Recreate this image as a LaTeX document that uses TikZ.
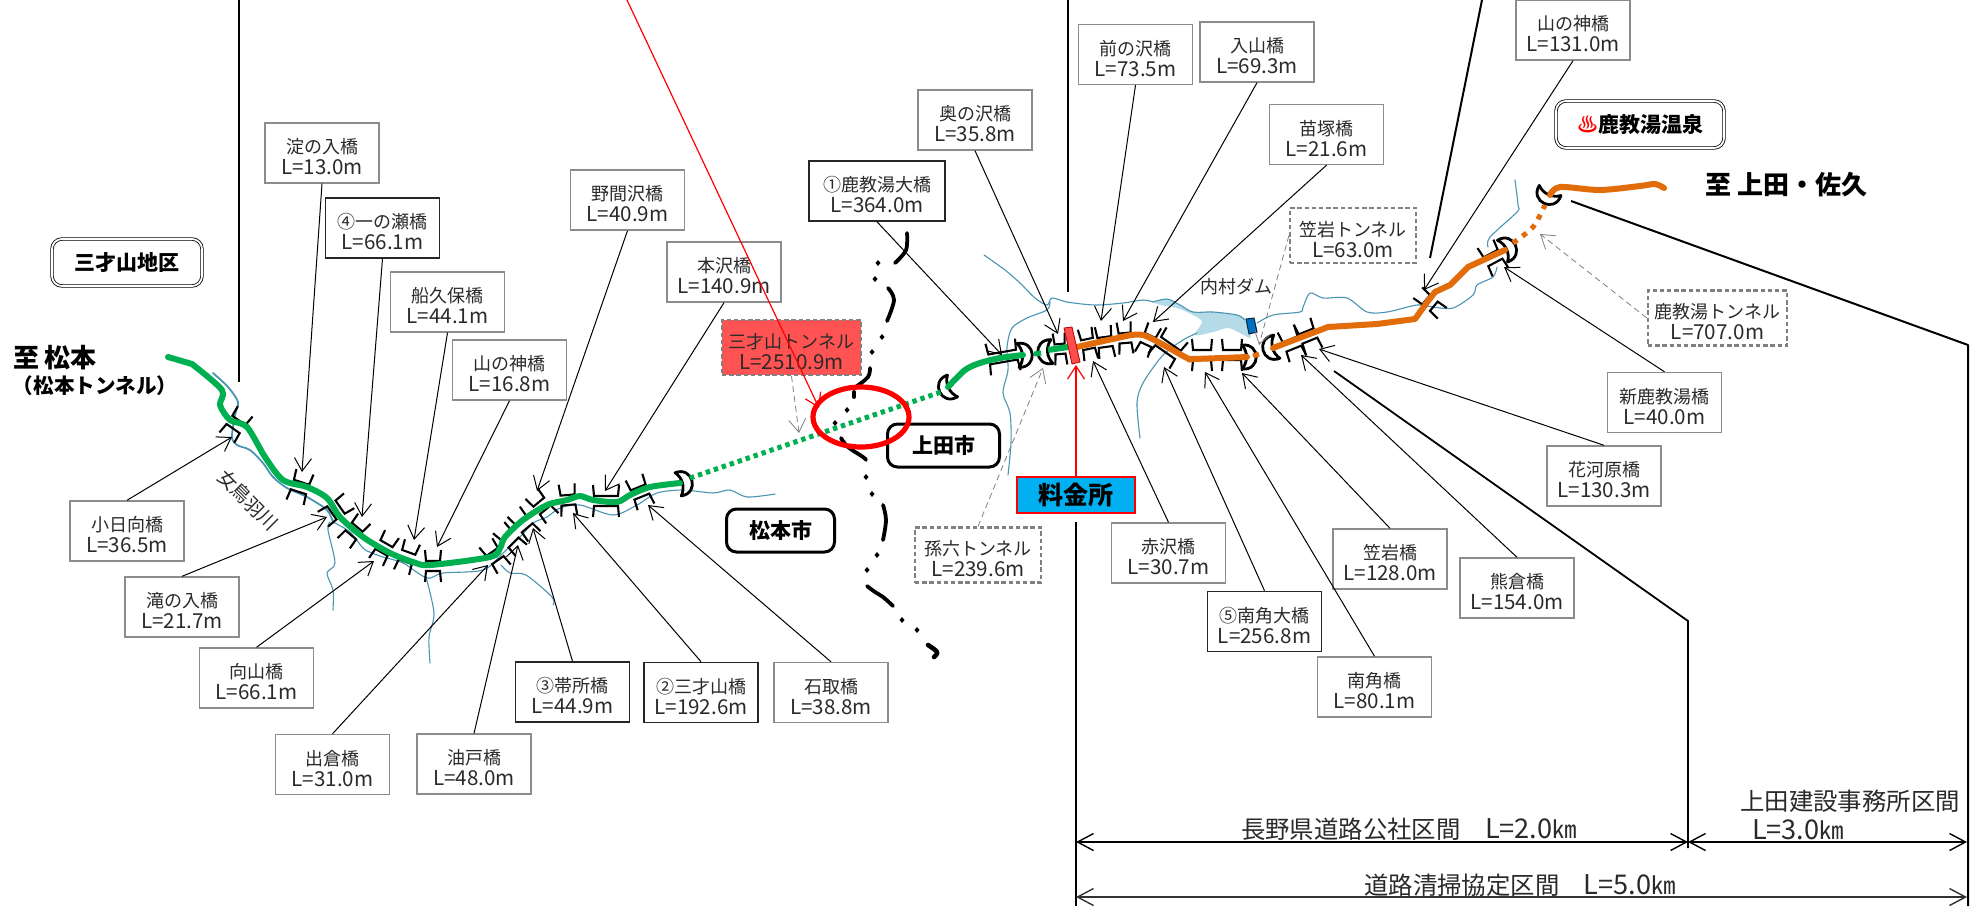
\documentclass[tikz,border=0pt]{standalone}
\usepackage{fontspec}
\setmainfont{Noto Sans CJK JP}
\usetikzlibrary{arrows.meta,shapes.geometric,calc}
\definecolor{rv}{HTML}{4A94B4}
\definecolor{grn}{HTML}{00B050}
\definecolor{org}{HTML}{E36C0A}
\definecolor{lake}{HTML}{B4DBE7}
\definecolor{tx}{HTML}{2A2A2A}
\definecolor{tollblue}{HTML}{00B0F0}
\definecolor{damblue}{HTML}{0070C0}
\tikzset{
 lbase/.style={fill=white,minimum width=57pt,minimum height=30pt,inner sep=0pt,align=center,text=tx,font=\fontsize{9}{10.5}\selectfont},
 lgray/.style={lbase,draw=black!45,line width=.7pt},
 lblack/.style={lbase,draw=black!85,line width=.8pt},
 ldash/.style={lbase,draw=black!50,line width=1.1pt,dash pattern=on 2.2pt off 1.4pt,minimum width=63pt,minimum height=27.5pt},
 arr/.style={line width=.5pt,-{Straight Barb[length=6.5pt,width=8.5pt,line width=.5pt]}},
 garr/.style={line width=.4pt,draw=black!50,densely dashed,-{Straight Barb[length=6.5pt,width=8.5pt,line width=.4pt,black!50]}},
 rarr/.style={line width=.6pt,draw=red,-{Straight Barb[length=6.5pt,width=8.5pt,line width=.6pt,red]}},
 river/.style={draw=rv,line width=.55pt,line join=round,line cap=round},
 road/.style={line width=3pt,line join=round,line cap=round},
 heavy/.style={line width=1pt,draw=black},
 dimarr/.style={line width=.9pt,{Straight Barb[length=8pt,width=8.5pt,line width=.7pt]}-{Straight Barb[length=8pt,width=8.5pt,line width=.7pt]}},
 brail/.style={draw=black,line width=1.05pt,line join=miter},
 border/.style={draw=black,line width=1.9pt,line cap=round,line join=round},
 rbox/.style={draw=black,line width=1.5pt,rounded corners=5pt,fill=white,inner sep=0pt,font=\bfseries\fontsize{10.5}{12}\selectfont},
 dbox/.style={draw=black,line width=.4pt,double=white,double distance=.9pt,rounded corners=5pt,fill=white,inner sep=0pt,font=\bfseries\fontsize{10.5}{12}\selectfont},
 dimtext/.style={inner sep=0pt,text=tx,font=\fontsize{12.2}{13}\selectfont},
}
\newcommand{\lbl}[6]{\node[#4] (#1) at (#2,#3) {\rule{0pt}{11.6pt}#5\\\fontsize{10.3}{10.5}\selectfont #6};}
\newcommand{\conn}[5]{\coordinate (#1-tip) at (#3,#4); \draw[#5] (#1.#2) -- (#1-tip);}
\newcommand{\brg}[4]{\begin{scope}[shift={(#1,#2)},rotate=#3]
 \draw[brail] (-#4-1,-16) -- (-#4,-5) -- (#4,-5) -- (#4+1,-16);
 \draw[brail] (-#4-1,16) -- (-#4,5) -- (#4,5) -- (#4+1,16);
 \end{scope}}
\newcommand{\portal}[3]{\begin{scope}[shift={(#1,#2)},rotate=#3]
 \draw[draw=black,fill=white,line width=1.4pt,line join=round] (-5,-12) .. controls (14,-14) and (14,14) .. (-5,12) .. controls (1,5) and (1,-5) .. (-5,-12) -- cycle;
 \end{scope}}
\newcommand{\dimL}[1]{{\fontsize{13.6}{13}\selectfont #1}}
\begin{document}
\begin{tikzpicture}[x=.5pt,y=-.5pt]
\useasboundingbox (0,0) rectangle (1980,906);
\fill[white] (0,0) rectangle (1980,906);

% lake and rivers
\fill[lake] plot[smooth,tension=.5] coordinates {(1153,302)(1167,299)(1180,305)(1193,312)(1213,312)(1237,315)(1245,320)(1250,333)(1250,338)(1240,333)(1228,328)(1213,332)(1195,335)(1202,322)(1193,315)(1177,308)(1160,305)(1153,302)};
\draw[river] plot[smooth,tension=.5] coordinates {(1153,302)(1167,299)(1180,305)(1193,312)(1213,312)(1237,315)(1245,320)};
\draw[river,line width=.9pt] plot[smooth,tension=.5] coordinates {(213,373)(228,387)(238,402)(235,415)(232,437)(237,445)(250,450)(263,463)(273,477)(287,488)(307,497)(327,510)(333,522)};
\draw[river] plot[smooth,tension=.5] coordinates {(333,522)(350,532)(363,548)(372,553)(383,557)(403,563)(427,578)(443,573)(483,570)(503,553)(520,537)(533,523)(547,517)(560,508)(580,505)(613,515)(637,505)(657,493)(683,490)(713,493)(730,490)(747,497)(775,494)};
\draw[river] plot[smooth,tension=.5] coordinates {(330,522)(328,530)(335,563)(327,573)(333,590)(333,610)};
\draw[river] plot[smooth,tension=.5] coordinates {(426,577)(434,613)(429,637)(430,663)};
\draw[river] plot[smooth,tension=.5] coordinates {(501,565)(510,573)(526,575)(552,597)(553,605)};
\draw[river] plot[smooth,tension=.5] coordinates {(984,255)(1005,270)(1020,283)(1035,298)(1047,305)(1052,298)(1067,302)(1095,305)(1123,303)(1143,300)(1153,302)};
\draw[river] plot[smooth,tension=.5] coordinates {(1050,302)(1047,310)(1027,318)(1012,328)(1007,347)(1008,370)(1003,393)(1010,413)(1011,443)(1008,475)};
\draw[river] plot[smooth,tension=.5] coordinates {(1197,333)(1183,340)(1163,355)(1143,383)(1137,403)(1140,438)};
\draw[river] plot[smooth,tension=.5] coordinates {(1257,323)(1273,315)(1300,312)(1303,307)(1310,293)(1323,298)(1347,298)(1367,312)(1387,312)(1417,305)(1433,307)(1453,308)(1473,295)(1477,285)(1493,277)(1497,267)};
\draw[river] plot[smooth,tension=.5] coordinates {(1488,247)(1490,237)(1517,212)(1518,205)(1515,180)};
\filldraw[draw=black!70!damblue,fill=damblue,line width=.5pt] (1246,319) -- (1254,318) -- (1257,332) -- (1249,334) -- cycle;

% city boundary
\draw[border] plot[smooth,tension=.6] coordinates {(907,233)(906,250)(895,263)};
\draw[border] plot[smooth,tension=.6] coordinates {(888,288)(894,300)(887,321)};
\draw[border] plot[smooth,tension=.6] coordinates {(870,368)(868,377)(857,386)};
\draw[border] (854,392) -- (854,397);
\draw[border] plot[smooth,tension=.6] coordinates {(841,438)(848,447)(863,457)(866,460)};
\draw[border] plot[smooth,tension=.6] coordinates {(883,505)(886,520)(883,540)};
\draw[border] plot[smooth,tension=.6] coordinates {(867,586)(875,592)(883,597)(893,606)};
\draw[border,line width=2.3pt] plot[smooth,tension=.6] coordinates {(928,645)(937,652)(934,657)};
\foreach \p in {(878,263),(875,279),(882,337),(872,352),(847,410),(835,423),(866,477),(872,494),(877,555),(867,570),(902,620),(917,630)} {\fill[black] \p ++(-2.5,0) -- ++(2.5,-3) -- ++(2.5,3) -- ++(-2.5,3) -- cycle;}

% heavy leader lines
\coordinate (v1a) at (239,0); \coordinate (v1b) at (239,382); \draw[heavy] (v1a) -- (v1b);
\coordinate (v2a) at (1068,0); \coordinate (v2b) at (1068,292); \draw[heavy] (v2a) -- (v2b);
\coordinate (v3a) at (1076,522); \coordinate (v3b) at (1076,906); \draw[heavy,line width=.9pt] (v3a) -- (v3b);
\coordinate (v4a) at (1482,0); \coordinate (v4b) at (1430,258); \draw[heavy] (v4a) -- (v4b);
\coordinate (v5a) at (1334,371); \coordinate (v5b) at (1688,621); \coordinate (v5c) at (1688,848); \draw[heavy,line width=.9pt,line join=round] (v5a) -- (v5b) -- (v5c);
\coordinate (v6a) at (1571,201); \coordinate (v6b) at (1968,345); \coordinate (v6c) at (1968,906); \draw[heavy,line join=round] (v6a) -- (v6b) -- (v6c);

% bridges
\brg{236}{424.5}{-35}{8}
\brg{300}{487}{-18}{8}
\brg{336}{510}{-55}{8}
\brg{354}{531}{-40}{7}
\brg{384}{548}{-30}{7}
\brg{407}{557}{-20}{7}
\brg{433}{566}{0}{7}
\brg{495}{556}{35}{7}
\brg{510}{539}{45}{7}
\brg{524}{524}{40}{7}
\brg{542}{506}{40}{7}
\brg{568}{500}{5}{7}
\brg{606}{501}{0}{12}
\brg{640}{492}{22}{8}
\brg{1003}{357}{10}{14}
\brg{1060}{349}{5}{5}
\brg{1088}{344}{12}{6}
\brg{1105}{342}{8}{7}
\brg{1125}{338}{5}{6}
\brg{1148}{340}{-25}{6}
\brg{1168}{348}{-35}{12}
\brg{1202}{355}{0}{9}
\brg{1232}{355}{0}{9}
\brg{1292}{344}{22}{8}
\brg{1308}{336}{22}{8}
\brg{1430}{303}{50}{6}
\brg{1493}{258}{28}{8}

% tunnel portals
\portal{683}{483}{15}
\portal{948}{388}{205}
\portal{1023}{355}{5}
\portal{1047}{352}{185}
\portal{1247}{357}{0}
\portal{1272}{348}{195}
\portal{1507}{249}{25}
\portal{1548}{195}{245}

% roads
\draw[road,grn] plot[smooth,tension=.5] coordinates {(168,357)(192,364)};
\draw[road,grn] plot[smooth,tension=.5] coordinates {(192,364)(222,390)(220,405)(230,420)(247,427)(265,457)(283,480)(307,487)(327,498)(340,517)(363,537)(390,553)(413,562)(430,565)(490,557)(500,548)(505,537)(523,520)(547,505)(567,500)(580,496)(593,500)(617,502)(630,495)(650,487)(680,483)};
\draw[grn,line width=2.5pt,dash pattern=on 2.2pt off 2pt] (690,478) -- (941,392);
\draw[road,grn] plot[smooth,tension=.5] coordinates {(948,387)(965,370)(980,363)(1000,358)(1023,355)};
\draw[grn,line width=2.5pt] (1034,354) -- (1041,353);
\draw[road,grn,line cap=butt] (1048,350) -- (1068,347);
\draw[road,org] plot[smooth,tension=.4] coordinates {(1077,347)(1113,339)(1143,335)(1187,358)(1193,359)(1247,357)};
\draw[org,line width=2.5pt] (1253,356) -- (1259,354);
\draw[road,org] plot coordinates {(1273,348)(1328,327)(1377,324)(1415,319)(1428,301)(1435,292)(1450,285)(1468,267)(1505,250)};
\draw[org,line width=2.5pt,dash pattern=on 2.6pt off 3.2pt] plot[smooth,tension=.5] coordinates {(1513,243)(1533,227)(1545,205)};
\draw[road,org] plot[smooth,tension=.5] coordinates {(1550,195)(1560,187)(1600,190)(1640,186)(1655,184)(1664,188)};

% red tollgate bar
\filldraw[draw=red!75!black,fill=red!70!white,line width=.4pt] (1064,328) -- (1072,327) -- (1080,362) -- (1072,364) -- cycle;

% labels
\lbl{yodo}{322}{153}{lgray}{淀の入橋}{L=13.0m}
\lbl{ichi}{382.5}{228}{lblack}{④一の瀬橋}{L=66.1m}
\lbl{funa}{447.5}{302}{lgray}{船久保橋}{L=44.1m}
\lbl{yama}{509.5}{370}{lgray}{山の神橋}{L=16.8m}
\lbl{noma}{627.5}{200}{lgray}{野間沢橋}{L=40.9m}
\lbl{hon}{724}{272}{lgray}{本沢橋}{L=140.9m}
\lbl{kake}{877}{191}{lblack,minimum width=68pt}{①鹿教湯大橋}{L=364.0m}
\lbl{oku}{975}{120}{lgray}{奥の沢橋}{L=35.8m}
\lbl{mae}{1135.5}{54.5}{lgray}{前の沢橋}{L=73.5m}
\lbl{iri}{1257}{52}{lgray}{入山橋}{L=69.3m}
\lbl{nae}{1326.5}{134.5}{lgray}{苗塚橋}{L=21.6m}
\lbl{yama2}{1573}{30}{lgray}{山の神橋}{L=131.0m}
\lbl{shin}{1664.5}{402.5}{lgray}{新鹿教湯橋}{L=40.0m}
\lbl{hana}{1604}{476}{lgray}{花河原橋}{L=130.3m}
\lbl{kuma}{1517}{588}{lgray}{熊倉橋}{L=154.0m}
\lbl{kasa}{1390}{559}{lgray}{笠岩橋}{L=128.0m}
\lbl{mina}{1374.5}{687}{lgray}{南角橋}{L=80.1m}
\lbl{mdai}{1264.5}{621.5}{lblack}{⑤南角大橋}{L=256.8m}
\lbl{aka}{1168.5}{553}{lgray}{赤沢橋}{L=30.7m}
\lbl{kobi}{127}{531}{lgray}{小日向橋}{L=36.5m}
\lbl{taki}{182}{607}{lgray}{滝の入橋}{L=21.7m}
\lbl{muka}{256.5}{678}{lgray}{向山橋}{L=66.1m}
\lbl{deku}{332.5}{764.5}{lgray}{出倉橋}{L=31.0m}
\lbl{abur}{474}{764}{lgray}{油戸橋}{L=48.0m}
\lbl{obi}{572.5}{692}{lblack}{③帯所橋}{L=44.9m}
\lbl{san}{701}{692.5}{lblack}{②三才山橋}{L=192.6m}
\lbl{ishi}{831}{692.5}{lgray}{石取橋}{L=38.8m}
\lbl{stn}{791.5}{347.5}{ldash,fill=red!68!white,minimum width=69.5pt}{三才山トンネル}{L=2510.9m}
\lbl{mago}{978}{555}{ldash}{孫六トンネル}{L=239.6m}
\lbl{ktn}{1353}{235.5}{ldash}{笠岩トンネル}{L=63.0m}
\lbl{ytn}{1717.5}{318}{ldash,minimum width=69.5pt}{鹿教湯トンネル}{L=707.0m}

% leaders
\conn{yodo}{south}{302}{472}{arr}
\conn{ichi}{south}{362}{517}{arr}
\conn{funa}{south}{414}{540}{arr}
\conn{yama}{south}{437}{547}{arr}
\conn{noma}{south}{537}{491}{arr}
\conn{hon}{south}{605}{491}{arr}
\conn{kake}{south}{1002}{355}{arr}
\conn{oku}{south}{1058}{334}{arr}
\conn{mae}{south}{1101}{321}{arr}
\conn{iri}{south}{1123}{321}{arr}
\conn{nae}{south}{1153}{322}{arr}
\conn{yama2}{south}{1424}{290}{arr}
\conn{shin}{north}{1504}{267}{arr}
\conn{hana}{north}{1319}{349}{arr}
\conn{kuma}{north}{1301}{355}{arr}
\conn{kasa}{north}{1242}{373}{arr}
\conn{mina}{north}{1205}{372}{arr}
\conn{mdai}{north}{1164}{367}{arr}
\conn{aka}{north}{1093}{361}{arr}
\conn{kobi}{north}{232}{437}{arr}
\conn{taki}{north}{327}{517}{arr}
\conn{muka}{north}{374}{561}{arr}
\conn{deku}{north}{488}{565}{arr}
\conn{abur}{north}{518}{545}{arr}
\conn{obi}{north}{533}{528}{arr}
\conn{san}{north}{573}{513}{arr}
\conn{ishi}{north}{648}{505}{arr}
\conn{stn}{south}{799}{433}{garr}
\conn{mago}{north}{1043}{368}{garr}
\conn{ktn}{west}{1259}{345}{garr}
\conn{ytn}{west}{1540}{234}{garr}

% plain titles
\node[inner sep=0pt,font=\bfseries\fontsize{13}{14}\selectfont] (tmat) at (55,357.5) {至 松本};
\node[inner sep=0pt,font=\bfseries\fontsize{10.3}{11}\selectfont] (tmatb) at (95,386) {（松本トンネル）};
\node[inner sep=0pt,font=\bfseries\fontsize{13}{14}\selectfont] (tued) at (1786,185) {至 上田・佐久};
\node[inner sep=0pt,text=tx,font=\fontsize{9}{11}\selectfont] (dam) at (1236,286.5) {内村ダム};
\node[inner sep=0pt,text=tx,rotate=-45,font=\fontsize{9.5}{11}\selectfont] (riv) at (248,500) {女鳥羽川};
\node[dbox,minimum width=75pt,minimum height=23.5pt] (sanz) at (127,262.5) {三才山地区};
\node[dbox,minimum width=84pt,minimum height=23.5pt] (onsen) at (1640,124.5) {{\color{red}♨}鹿教湯温泉};
\node[rbox,minimum width=56pt,minimum height=21.5pt] (ueda) at (943.5,445.5) {上田市};
\node[rbox,minimum width=54pt,minimum height=21.5pt] (mats) at (780.5,530.5) {松本市};
\node[draw=red,line width=1pt,fill=tollblue,inner sep=0pt,minimum width=59pt,minimum height=18pt,font=\bfseries\fontsize{12.5}{14}\selectfont] (toll) at (1076,494.5) {料金所};
\coordinate (tolltip) at (1076,365); \draw[rarr] (toll.north) -- (tolltip);

% section dimensions
\coordinate (d1a) at (1076,842); \coordinate (d1b) at (1688,842); \coordinate (d1c) at (1967,842);
\coordinate (d2a) at (1076,897); \coordinate (d2b) at (1967,897);
\draw[dimarr] (d1a) -- (d1b);
\draw[dimarr] (d1b) -- (d1c);
\draw[dimarr,draw=black!80] (d2a) -- (d2b);
\node[dimtext] (t1) at (1409,829) {長野県道路公社区間　\dimL{L=2.0}㎞};
\node[dimtext] (t2) at (1850,801) {上田建設事務所区間};
\node[dimtext] (t3) at (1798,830) {\dimL{L=3.0}㎞};
\node[dimtext] (t4) at (1520,885.5) {道路清掃協定区間　\dimL{L=5.0}㎞};

% red overlay
\draw[red,line width=2.6pt] (861,417) ellipse [x radius=48,y radius=30];
\coordinate (rtop) at (627,0); \coordinate (rtip) at (819,408);
\draw[rarr] (rtop) -- (rtip);
\end{tikzpicture}
\end{document}
